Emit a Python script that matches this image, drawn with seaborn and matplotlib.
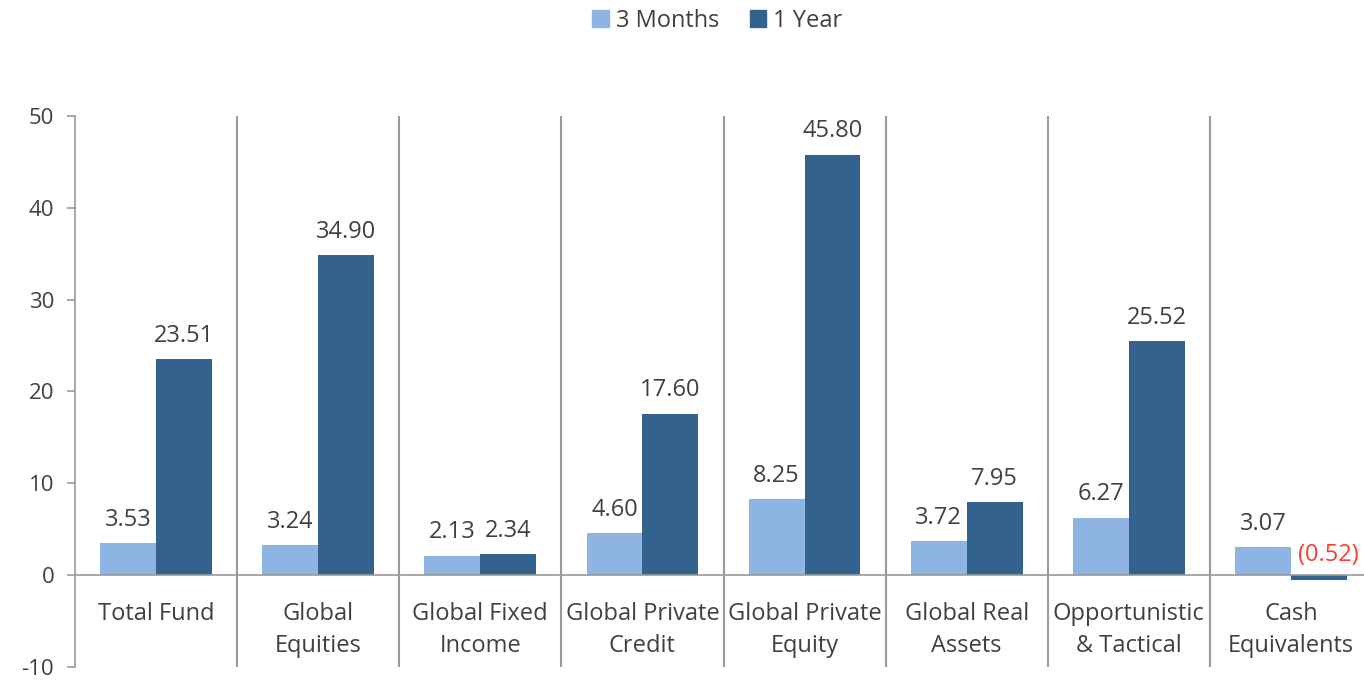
import pandas as pd
import matplotlib.pyplot as plt
import seaborn as sns

# -----------------------------------------------------
# Data
# -----------------------------------------------------

categories = [
    "Total Fund",
    "Global\nEquities",
    "Global Fixed\nIncome",
    "Global Private\nCredit",
    "Global Private\nEquity",
    "Global Real\nAssets",
    "Opportunistic\n& Tactical",
    "Cash\nEquivalents",
]
three_months = [3.53, 3.24, 2.13, 4.60, 8.25, 3.72, 6.27, 3.07]
one_year = [23.51, 34.90, 2.34, 17.60, 45.80, 7.95, 25.52, -0.52]
series_names = ["3 Months", "1 Year"]

df = pd.DataFrame({
    "category": categories * 2,
    "period": [series_names[0]] * len(categories) + [series_names[1]] * len(categories),
    "value": three_months + one_year,
})

# -----------------------------------------------------
# Style
# -----------------------------------------------------

sns.set_style("white")
plt.rcParams["font.family"] = ["Open Sans", "DejaVu Sans"]
plt.rcParams["axes.unicode_minus"] = False

text_color = "#404040"
grid_color = "#9a9a9a"
palette = {"3 Months": "#8EB4E3", "1 Year": "#33628F"}
fs = 17

fig = plt.figure(figsize=(13.64, 6.8), dpi=100)
ax = fig.add_axes([75 / 1364, 1 - 667 / 680, 1297 / 1364, 551 / 680])

sns.barplot(
    data=df,
    x="category",
    y="value",
    hue="period",
    palette=palette,
    width=0.69,
    saturation=1,
    linewidth=0,
    legend=False,
    ax=ax,
)

ax.set_xlim(-0.5, len(categories) - 0.5)
ax.set_ylim(-10, 50)
ax.set_yticks(range(-10, 51, 10))
ax.set_xlabel("")
ax.set_ylabel("")
ax.set_xticks([])

for side in ["top", "right", "bottom"]:
    ax.spines[side].set_visible(False)
ax.spines["left"].set_color(grid_color)
ax.spines["left"].set_linewidth(1.2)
ax.tick_params(axis="y", left=True, length=6, width=1.2, color=grid_color,
               labelsize=16, labelcolor=text_color, pad=9)

# zero line and category separators
ax.axhline(0, color=grid_color, lw=1.2, zorder=3)
for i in range(len(categories) - 1):
    ax.axvline(i + 0.5, color=grid_color, lw=1.5, zorder=0)

# category labels under the zero line
for i, cat in enumerate(categories):
    ax.text(i, -2.9, cat, ha="center", va="top", fontsize=fs,
            color=text_color, linespacing=1.45)

# value labels
for bar_group in ax.containers:
    for bar in bar_group:
        h = bar.get_height()
        x = bar.get_x() + bar.get_width() / 2
        if h < 0:
            ax.annotate(f"({abs(h):.2f})", (x + 0.06, 0), xytext=(0, 6),
                        textcoords="offset points", ha="center", va="bottom",
                        fontsize=fs, color="#FF3B30")
        else:
            ax.annotate(f"{h:.2f}", (x, h), xytext=(0, 8),
                        textcoords="offset points", ha="center", va="bottom",
                        fontsize=fs, color=text_color)

# legend
handles = [plt.Rectangle((0, 0), 1, 1, color=palette[n]) for n in series_names]
fig.legend(handles, series_names, loc="upper center", bbox_to_anchor=(0.526, 1.018),
           ncol=2, frameon=False, fontsize=fs, handlelength=0.7, handleheight=0.7,
           handletextpad=0.3, columnspacing=1.3, labelcolor=text_color)

plt.savefig("out.png", dpi=100)
plt.close()
